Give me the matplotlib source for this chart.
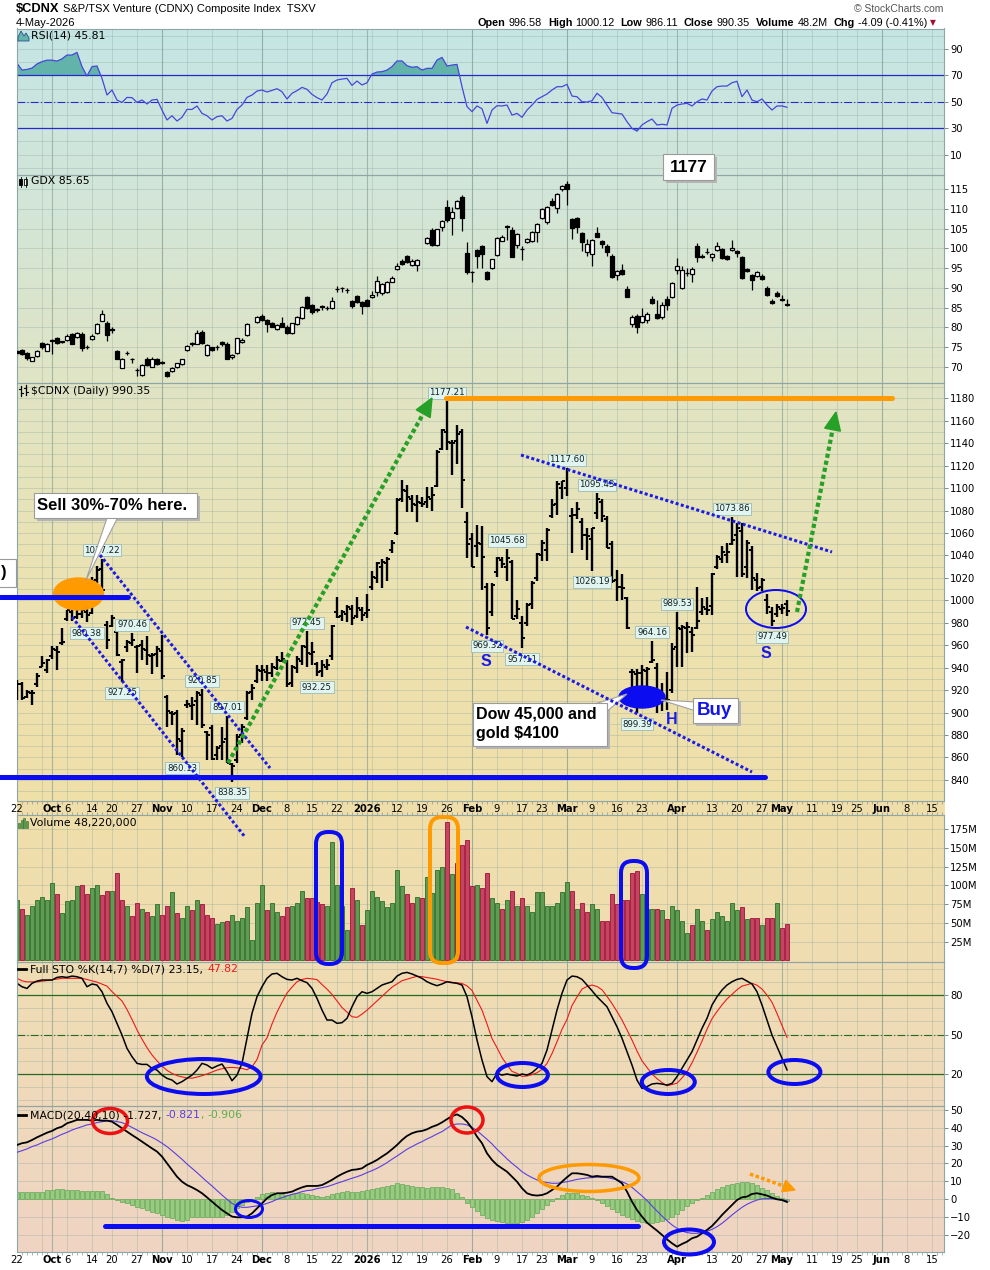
import numpy as np
import pandas as pd
import matplotlib
matplotlib.use('Agg')
import matplotlib.pyplot as plt
from matplotlib.patches import Ellipse, Rectangle, Polygon, FancyBboxPatch
from matplotlib.colors import LinearSegmentedColormap

plt.rcParams['font.family'] = ['DejaVu Sans']

W, H = 990, 1270
X0, X1 = 16.5, 944.0
PX = 0.72  # points per pixel at 100 dpi

# TSXV trading calendar
holidays = ['2025-10-13', '2025-12-25', '2025-12-26', '2026-01-01',
            '2026-02-16', '2026-04-03', '2026-05-18']
days = pd.bdate_range('2025-09-22', '2026-06-19', freq='C', holidays=holidays)
pos = {d.strftime('%Y-%m-%d'): k for k, d in enumerate(days)}

tick_dates = ['2025-09-22', '2025-10-01', '2025-10-06', '2025-10-14', '2025-10-20', '2025-10-27',
              '2025-11-03', '2025-11-10', '2025-11-17', '2025-11-24', '2025-12-01', '2025-12-08',
              '2025-12-15', '2025-12-22', '2026-01-02', '2026-01-12', '2026-01-19', '2026-01-26',
              '2026-02-02', '2026-02-09', '2026-02-17', '2026-02-23', '2026-03-02', '2026-03-09',
              '2026-03-16', '2026-03-23', '2026-04-01', '2026-04-13', '2026-04-20', '2026-04-27',
              '2026-05-01', '2026-05-11', '2026-05-19', '2026-05-25', '2026-06-01', '2026-06-08',
              '2026-06-15']
tick_labels = ['22', 'Oct', '6', '14', '20', '27', 'Nov', '10', '17', '24', 'Dec', '8', '15', '22',
               '2026', '12', '19', '26', 'Feb', '9', '17', '23', 'Mar', '9', '16', '23', 'Apr', '13',
               '20', '27', 'May', '11', '19', '25', 'Jun', '8', '15']
month_names = {'Oct', 'Nov', 'Dec', '2026', 'Feb', 'Mar', 'Apr', 'May', 'Jun'}

# ---------------- $CDNX daily OHLC ----------------
cdnx_open = [918, 925, 914, 917, 925, 941, 938, 950, 956, 962,
             983, 990, 985, 988, 990, 989, 1018, 1028, 978, 977,
             972, 945, 958, 962, 958, 960, 956, 950, 952, 955,
             914, 900, 900, 875, 907, 906, 910, 916, 883, 886,
             862, 870, 876, 854, 858, 880, 895, 918, 928, 937,
             936, 935, 940, 946, 945, 926, 940, 946, 958, 952,
             943, 937, 941, 950, 990, 986, 988, 992, 986, 991,
             989, 1012, 1020, 1030, 1033, 1045, 1060, 1090, 1097, 1090,
             1085, 1087, 1088, 1090, 1102, 1135, 1150, 1140, 1142, 1150,
             1070, 1055, 1048, 1050, 1012, 990, 1025, 1036, 1030, 1034,
             986, 980, 980, 997, 1020, 1040, 1045, 1075, 1086, 1100,
             1100, 1075, 1076, 1070, 1058, 1055, 1078, 1088, 1072, 1050,
             1018, 1012, 1002, 936, 934, 935, 937, 945, 940, 915,
             912, 920, 958, 974, 975, 972, 975, 990, 992, 995,
             1030, 1037, 1040, 1050, 1058, 1062, 1030, 1045, 1018, 1012,
             1000, 990, 988, 992, 996.58]
cdnx_high = [929, 927, 920, 920, 935, 950, 948, 959, 959, 975,
             991, 993, 994, 994, 992, 1021, 1031, 1037.22, 982, 987,
             974, 948, 965, 970.46, 960, 965, 968, 953, 959, 969,
             916, 901, 902, 886, 911, 914, 919, 920.85, 884, 889,
             870, 887, 897.01, 855, 881, 890, 919, 925, 942, 942,
             942, 944, 950, 954, 947, 942, 950, 960, 972.45, 963,
             945, 947, 948, 978, 1003, 991, 996, 996, 1003, 994,
             1006, 1026, 1034, 1037, 1039, 1054, 1091, 1107, 1103, 1094,
             1094, 1092, 1101, 1101, 1134, 1153, 1177.21, 1143, 1156, 1153,
             1079, 1060, 1067, 1066, 1015, 1015, 1039, 1039, 1045.68, 1036,
             1000, 986, 998, 1017, 1042, 1054, 1064, 1090, 1106, 1106,
             1117.60, 1082, 1088, 1073, 1064, 1064, 1095.43, 1090, 1075, 1053,
             1027, 1023, 1003, 939, 939, 942, 941, 964.16, 944, 926,
             936, 962, 989.53, 978, 981, 976, 1012, 1002, 1003, 1024,
             1040, 1048, 1051, 1073.86, 1069, 1069, 1054, 1048, 1024, 1020,
             1006, 994, 997, 997, 1000.12]
cdnx_low = [911, 911, 913, 907, 923, 941, 935, 948, 938, 960,
            982, 982, 983, 984, 980.38, 988, 1015, 1006, 957, 976,
            950, 927.25, 954, 959, 935, 947, 942, 934, 941, 930,
            887, 889, 862, 860.13, 904, 893, 889, 886, 858, 858,
            858, 858, 855, 838.35, 855, 873, 893, 911, 926, 928,
            928, 932, 938, 945, 923, 923, 935, 942, 941, 942,
            932.25, 932, 938, 947, 984, 982, 981, 978, 984, 982,
            984, 1009, 1015, 1011, 1017, 1042, 1058, 1088, 1079, 1079,
            1070, 1083, 1082, 1080, 1101, 1134, 1134, 1112, 1121, 1082,
            1038, 1030, 1039, 1009, 969.32, 986, 1021, 1029, 1017, 983,
            983, 957.11, 977, 992, 1017, 1035, 1035, 1073, 1076, 1090,
            1093, 1042, 1072, 1045, 1036, 1026.19, 1072, 1070, 1047, 1015,
            999, 1000, 974, 923, 899.39, 923, 923, 944, 900, 901,
            902, 917, 941, 941, 953, 954, 974, 987, 987, 987,
            1028, 1033, 1033, 1049, 1021, 1021, 1020, 1009, 1008, 1008,
            988, 977.49, 985, 988, 986.11]
cdnx_close = [925, 913, 918, 917, 933, 944, 947, 957, 954, 963,
              991, 984, 988, 991, 987, 1017, 1027, 1009, 965, 984,
              951, 947, 963, 965, 959, 957, 951, 951, 957, 933,
              901, 899, 876, 884, 908, 907, 917, 889, 880, 859,
              868, 874, 855, 852, 878, 887, 917, 922, 938, 938,
              935, 941, 947, 948, 925, 941, 948, 959, 953, 954,
              936, 942, 942, 977, 985, 990, 994, 984, 993, 987,
              991, 1021, 1033, 1034, 1037, 1051, 1089, 1098, 1092, 1086,
              1088, 1086, 1092, 1094, 1132, 1152, 1141, 1140, 1148, 1107,
              1050, 1030, 1051, 1039, 975, 1014, 1038, 1032, 1038, 983,
              992, 966, 996, 1015, 1041, 1051, 1063, 1085, 1104, 1106,
              1116, 1076, 1081, 1058, 1057, 1064, 1090, 1075, 1047, 1017,
              1012, 1011, 975, 936, 935, 938, 939, 947, 911, 911,
              911, 957, 975, 976, 976, 969, 982, 994, 991, 1023,
              1039, 1043, 1043, 1054, 1064, 1023, 1051, 1020, 1011, 1018,
              994, 982, 994, 993, 990.35]

# labelled swing points: (day index, 'H' high / 'L' low)
swing_points = [(17, 'H'), (14, 'L'), (23, 'H'), (21, 'L'), (37, 'H'), (33, 'L'), (42, 'H'),
                (43, 'L'), (58, 'H'), (60, 'L'), (86, 'H'), (94, 'L'), (98, 'H'), (101, 'L'),
                (110, 'H'), (116, 'H'), (115, 'L'), (127, 'H'), (124, 'L'), (132, 'H'),
                (143, 'H'), (151, 'L')]

# ---------------- GDX candles (nan = US holiday) ----------------
nan = np.nan
gdx_open = [74.0, 74.2, 73.6, 71.6, 72.8, 76.1, 74.1, 76.6, 77.4, 76.3,
            76.9, 78.3, 77.6, 78.3, 75.1, 77.0, 78.6, 81.7, 81.2, 79.5,
            74.0, 69.8, 73.6, 72.1, 69.2, 67.9, 72.1, 70.0, 72.1, 71.1,
            68.7, 69.0, 70.0, 70.7, 74.2, 75.8, 75.9, 78.9, 73.0, 74.9,
            74.9, 76.3, 75.9, 72.4, 73.4, 76.3, 78.0, nan, 81.4, 83.0,
            81.8, 81.2, 79.6, 81.2, 80.2, 78.5, 80.8, 82.3, 87.6, 85.6,
            84.4, 85.3, 84.8, 84.8, 89.7, 89.9, 89.5, 86.7, 87.9, 86.5,
            86.9, 87.6, 89.0, 88.6, 88.9, 91.6, 94.8, 96.9, 98.1, 95.7,
            95.9, nan, 101.3, 104.7, 100.9, 105.3, 110.4, 107.6, 110.2, 113.0,
            98.8, 94.0, 99.6, 100.6, 94.1, 95.0, 98.3, 102.0, 105.6, 104.7,
            100.9, 99.9, 101.5, 101.9, 104.1, 107.6, 106.6, 112.0, 110.2, 115.0,
            116.3, 107.4, 107.8, 103.8, 99.0, 98.5, 103.8, 101.9, 100.7, 98.2,
            93.3, 94.5, 89.7, 80.8, 83.0, 81.3, 81.8, 87.3, 83.3, 82.5,
            87.1, 87.8, 94.5, 89.9, 93.8, 93.5, 100.5, 98.0, 99.1, 97.7,
            99.6, 99.8, 98.1, 99.6, 99.3, 97.7, 94.8, 93.3, 93.0, 93.1,
            89.9, 86.8, 88.6, 87.3, 86.0]
gdx_close = [73.6, 73.3, 72.2, 72.4, 74.0, 74.9, 75.8, 76.8, 76.1, 76.4,
             77.8, 75.9, 78.5, 74.8, 75.0, 77.8, 80.8, 83.5, 78.0, 79.3,
             72.1, 72.1, 73.4, 71.9, 69.1, 70.4, 70.4, 72.1, 70.7, 71.0,
             67.6, 69.8, 70.9, 71.9, 75.3, 76.0, 78.6, 76.1, 75.5, 74.2,
             74.9, 75.7, 72.1, 73.0, 77.2, 76.9, 80.8, nan, 82.5, 81.8,
             80.8, 80.2, 80.6, 80.2, 78.5, 81.0, 82.7, 85.2, 84.8, 84.0,
             84.4, 85.2, 84.9, 86.8, 89.8, 89.9, 89.4, 85.5, 86.5, 85.4,
             85.5, 88.2, 91.8, 91.0, 91.4, 92.6, 95.5, 96.1, 96.6, 96.9,
             97.1, nan, 102.6, 100.9, 104.8, 107.0, 107.1, 109.1, 111.9, 107.6,
             93.9, 93.9, 98.1, 98.6, 92.2, 97.2, 102.6, 103.0, 105.5, 97.9,
             103.7, 99.8, 102.4, 104.1, 106.1, 110.0, 110.4, 110.9, 113.7, 115.7,
             115.0, 105.1, 105.5, 101.5, 101.0, 102.1, 103.0, 101.1, 99.0, 92.8,
             94.3, 93.5, 87.8, 82.7, 80.0, 83.0, 83.3, 86.1, 82.3, 85.7,
             85.7, 91.3, 95.6, 94.5, 93.7, 94.8, 97.9, 97.9, 99.0, 98.6,
             100.5, 97.5, 97.3, 100.0, 98.8, 92.6, 94.3, 92.0, 94.1, 92.2,
             88.2, 86.1, 87.9, 86.9, 85.65]
gdx_high = [74.5, 74.6, 73.8, 72.6, 74.3, 76.4, 76.0, 77.0, 77.6, 76.6,
            78.3, 78.5, 78.7, 78.7, 75.5, 78.3, 81.0, 84.4, 81.5, 80.0,
            74.3, 72.3, 73.9, 72.3, 69.6, 70.6, 72.4, 72.4, 72.3, 71.4,
            68.9, 70.0, 71.0, 72.0, 75.5, 76.3, 79.3, 79.3, 75.8, 75.1,
            75.5, 76.6, 76.4, 73.3, 77.4, 77.2, 81.0, nan, 82.8, 83.3,
            82.0, 81.4, 80.9, 82.6, 80.5, 81.2, 83.0, 85.4, 87.9, 85.9,
            84.9, 85.6, 85.4, 87.8, 90.6, 90.2, 89.9, 86.9, 88.1, 86.8,
            87.1, 89.2, 93.0, 91.3, 91.7, 93.0, 96.3, 97.2, 98.4, 97.2,
            97.4, nan, 102.9, 105.2, 105.0, 107.3, 112.3, 110.4, 112.2, 113.5,
            101.6, 94.3, 99.9, 100.9, 94.4, 97.4, 102.9, 103.5, 106.0, 105.5,
            104.0, 100.5, 102.7, 104.5, 106.4, 110.3, 110.7, 112.8, 114.0, 116.0,
            117.1, 107.7, 108.0, 104.1, 102.3, 102.5, 105.4, 102.2, 101.0, 98.5,
            94.6, 96.0, 90.4, 83.2, 83.3, 85.0, 83.9, 88.0, 87.0, 86.5,
            88.0, 91.6, 97.6, 95.5, 95.0, 95.2, 101.4, 98.5, 100.0, 98.9,
            101.5, 100.2, 98.4, 102.1, 99.6, 98.0, 95.0, 93.6, 94.4, 93.4,
            90.6, 87.3, 89.2, 88.3, 87.2]
gdx_low = [73.0, 73.0, 71.8, 71.4, 72.6, 74.6, 73.9, 73.3, 75.9, 76.0,
           76.6, 75.7, 77.4, 74.0, 74.5, 76.8, 78.4, 81.5, 76.5, 78.6,
           71.9, 69.6, 73.1, 71.0, 67.7, 67.6, 70.1, 69.9, 70.4, 70.6,
           67.4, 68.8, 69.8, 70.5, 73.9, 75.4, 75.7, 75.9, 72.7, 73.9,
           74.2, 75.4, 71.9, 72.1, 73.2, 76.0, 77.8, nan, 81.2, 81.6,
           78.7, 80.0, 79.4, 80.0, 78.3, 78.3, 80.6, 82.1, 84.6, 83.5,
           83.8, 84.5, 84.3, 84.6, 89.0, 88.9, 88.6, 84.8, 86.2, 83.3,
           85.3, 87.4, 88.0, 88.1, 88.7, 91.4, 94.6, 95.9, 96.4, 95.5,
           94.3, nan, 101.1, 100.6, 100.7, 104.4, 106.8, 103.5, 110.0, 104.3,
           93.6, 91.6, 95.1, 95.0, 92.0, 94.8, 98.1, 101.8, 102.2, 97.9,
           100.0, 97.1, 101.3, 101.7, 101.7, 107.4, 106.3, 110.7, 109.0, 114.5,
           111.0, 102.3, 104.0, 99.3, 98.0, 95.6, 102.8, 100.0, 98.0, 92.5,
           92.0, 93.3, 87.6, 80.0, 78.5, 81.0, 81.0, 85.9, 82.0, 82.2,
           84.5, 87.5, 93.5, 89.6, 93.0, 91.5, 96.6, 97.5, 98.6, 96.8,
           99.3, 97.3, 97.0, 99.4, 97.8, 92.3, 93.9, 89.5, 92.8, 91.9,
           88.0, 85.8, 87.7, 86.7, 85.4]

# ---------------- volume (millions) and up/down colour ----------------
volume = [81, 68, 61, 73, 80, 84, 81, 103, 89, 63,
          79, 81, 99, 100, 88, 97, 101, 87, 93, 93,
          116, 81, 72, 59, 77, 68, 65, 59, 75, 60,
          73, 91, 63, 56, 73, 67, 81, 75, 61, 56,
          48, 51, 52, 61, 53, 56, 71, 27, 77, 100,
          67, 76, 65, 59, 71, 73, 76, 93, 83, 83,
          78, 75, 72, 158, 100, 72, 40, 96, 81, 47,
          67, 92, 84, 79, 71, 77, 120, 99, 88, 77,
          85, 83, 111, 90, 120, 125, 184, 115, 130, 154,
          160, 99, 100, 96, 117, 83, 77, 69, 80, 92,
          72, 83, 73, 64, 91, 91, 72, 73, 77, 91,
          105, 92, 68, 76, 65, 75, 68, 53, 52, 89,
          75, 80, 81, 117, 119, 88, 69, 69, 69, 67,
          55, 73, 67, 53, 36, 47, 68, 53, 41, 55,
          65, 59, 53, 76, 67, 71, 55, 57, 56, 47,
          57, 56, 76, 43, 48.22]
vol_dir = ("GRGGGGGGRG" "GGGRRGGRRG" "RRGRRGRGGR" "RGRGGRGRRR" "GGRGGGGGGG"
           "RGGRRGGGRR" "RRGGGGGRGR" "GGGGGGGGRR" "GRGGGGRGRR" "RRGRRGGRGR"
           "GRGGGGGGGG" "GRGRRGGRRR" "RRRRRGGGRG" "RGGGGRGGRG" "GGGGGRGRRG" "RRGRR")
vol_ticks = [25, 50, 75, 100, 125, 150, 175]

# ---------------- RSI(14) ----------------
rsi = [79.1, 74.0, 74.5, 75.5, 78.6, 80.4, 81.5, 81.5, 80.8, 82.5,
       85.4, 85.4, 87.4, 76.6, 69.5, 76.6, 77.1, 67.7, 55.1, 58.9,
       51.3, 49.5, 53.3, 53.1, 49.5, 51.3, 48.3, 51.3, 51.8, 43.7,
       36.2, 39.4, 35.4, 38.2, 44.2, 44.2, 46.8, 41.2, 39.4, 36.2,
       38.7, 39.4, 35.4, 37.4, 44.2, 47.5, 53.3, 55.1, 58.1, 58.9,
       57.4, 58.6, 59.9, 57.6, 52.1, 56.4, 58.4, 60.9, 59.4, 55.6,
       53.1, 51.3, 55.9, 64.4, 66.5, 67.2, 67.7, 62.4, 65.7, 62.7,
       64.4, 71.0, 72.5, 72.8, 74.0, 76.6, 80.9, 80.9, 77.3, 76.1,
       76.6, 74.0, 75.3, 75.3, 81.6, 83.6, 77.1, 77.8, 78.3, 61.4,
       46.3, 42.5, 46.8, 44.7, 33.6, 43.7, 47.0, 46.8, 47.5, 39.9,
       41.2, 38.2, 43.7, 47.5, 51.8, 53.8, 55.9, 58.9, 61.4, 61.4,
       63.2, 54.3, 53.8, 50.0, 49.8, 50.8, 56.4, 53.3, 47.5, 41.7,
       41.2, 40.7, 34.9, 29.8, 27.8, 32.4, 34.9, 36.9, 32.4, 32.9,
       32.4, 45.0, 47.5, 48.3, 48.8, 46.8, 50.0, 52.1, 51.3, 58.1,
       61.4, 61.9, 61.9, 64.4, 65.5, 53.8, 58.9, 51.3, 50.0, 52.1,
       47.5, 43.7, 46.8, 46.8, 45.81]

# ---------------- Full STO %K(14,7) %D(7) ----------------
sto_k = [88.9, 86.3, 85.0, 88.9, 90.6, 91.4, 91.4, 91.4, 93.4, 93.9,
         93.4, 94.4, 93.9, 92.7, 86.3, 88.4, 87.6, 82.5, 73.7, 67.3,
         58.5, 49.6, 39.5, 33.2, 28.1, 27.3, 27.3, 24.3, 23.0, 19.2,
         16.7, 15.4, 12.4, 14.2, 16.7, 19.2, 23.0, 28.1, 26.8, 24.3,
         26.1, 27.6, 21.8, 14.9, 19.2, 28.1, 47.1, 66.1, 78.7, 86.3,
         92.7, 96.0, 96.5, 93.9, 91.9, 91.4, 92.7, 90.9, 89.4, 85.1,
         77.5, 68.6, 61.0, 61.0, 58.5, 59.0, 62.3, 71.1, 78.7, 82.5,
         81.3, 82.5, 85.1, 87.6, 88.9, 90.1, 94.4, 96.5, 97.2, 96.0,
         94.4, 92.7, 90.1, 88.4, 87.1, 88.4, 90.1, 89.4, 88.9, 87.6,
         78.7, 63.5, 45.8, 30.6, 18.0, 14.2, 20.5, 19.2, 20.0, 19.2,
         18.5, 20.0, 19.2, 21.0, 24.3, 28.1, 38.2, 53.4, 68.6, 81.3,
         91.4, 94.4, 93.9, 91.9, 87.6, 83.3, 78.7, 74.9, 71.1, 63.5,
         55.9, 47.1, 37.0, 26.8, 15.4, 9.1, 10.4, 12.4, 12.9, 12.4,
         11.6, 12.9, 18.0, 24.3, 30.6, 37.0, 45.8, 54.7, 62.3, 72.4,
         78.7, 83.8, 87.6, 90.1, 91.9, 92.7, 90.6, 88.4, 82.5, 72.4,
         61.0, 49.6, 40.8, 31.9, 23.15]
sto_d = [92.7, 90.8, 90.0, 90.0, 90.0, 90.5, 91.0, 91.6, 92.1, 92.7,
         92.7, 92.7, 92.7, 92.7, 91.8, 90.8, 89.8, 88.3, 86.8, 82.6,
         79.0, 75.5, 69.0, 61.5, 53.5, 46.5, 40.0, 34.5, 30.0, 26.0,
         22.8, 20.5, 18.8, 17.8, 17.0, 16.8, 17.7, 18.7, 20.0, 21.5,
         23.0, 24.0, 24.8, 25.0, 24.7, 24.3, 23.2, 25.5, 31.0, 42.0,
         47.5, 58.0, 67.0, 74.5, 81.5, 86.0, 90.1, 91.8, 92.7, 92.3,
         91.7, 88.0, 84.5, 80.5, 75.5, 70.5, 67.0, 63.5, 63.0, 65.5,
         68.5, 72.0, 75.5, 79.0, 82.5, 86.0, 88.5, 90.9, 92.0, 93.2,
         94.2, 94.0, 93.3, 92.7, 92.0, 91.0, 90.1, 89.7, 89.3, 88.8,
         87.0, 83.5, 76.0, 68.5, 58.0, 47.0, 40.0, 32.5, 27.0, 22.0,
         20.5, 18.2, 18.5, 19.5, 21.0, 23.5, 28.0, 35.5, 44.5, 54.0,
         61.5, 72.0, 78.5, 84.5, 86.5, 87.6, 86.5, 84.0, 79.0, 73.5,
         67.5, 61.0, 53.5, 45.8, 37.5, 30.0, 25.0, 20.0, 16.5, 13.5,
         11.0, 12.0, 13.0, 17.0, 21.5, 28.5, 36.5, 45.0, 54.0, 62.0,
         67.5, 72.5, 77.0, 80.5, 84.0, 86.8, 87.8, 88.9, 87.5, 84.5,
         80.0, 74.5, 66.0, 57.0, 47.82]

# ---------------- MACD(20,40,10) ----------------
macd_line = [30.3, 31.3, 31.8, 33.1, 34.6, 35.9, 37.2, 38.2, 39.7, 40.6,
             42.5, 43.4, 44.4, 44.4, 44.4, 44.0, 44.4, 44.0, 44.0, 43.4,
             41.6, 39.7, 37.8, 35.9, 34.1, 32.2, 30.3, 28.4, 26.6, 23.8,
             20.0, 16.3, 12.5, 9.7, 7.8, 6.5, 5.0, 3.2, 0.9, -1.5,
             -3.9, -6.2, -8.1, -9.9, -10.3, -10.3, -9.9, -8.1, -5.3, -2.5,
             0.4, 2.2, 3.2, 3.2, 3.5, 4.1, 5.4, 6.5, 7.3, 7.3,
             7.3, 7.8, 9.2, 10.7, 12.5, 14.0, 15.3, 16.3, 16.6, 17.2,
             19.1, 20.4, 21.9, 23.8, 25.6, 27.9, 30.3, 33.1, 35.4, 36.9,
             37.8, 38.2, 39.1, 40.5, 41.5, 43.0, 44.8, 46.5, 47.5, 46.0,
             43.4, 39.7, 35.0, 31.3, 25.6, 21.9, 19.1, 17.2, 15.3, 12.5,
             9.7, 6.0, 3.2, 2.2, 1.9, 2.2, 3.2, 5.0, 6.9, 9.7,
             12.2, 14.4, 14.4, 14.0, 13.5, 12.5, 12.9, 12.5, 12.5, 12.5,
             10.7, 8.8, 4.1, -1.5, -6.2, -9.9, -13.3, -15.6, -17.8, -20.2,
             -22.7, -24.9, -26.8, -25.3, -24.0, -22.1, -21.2, -19.3, -17.4, -15.2,
             -12.2, -9.0, -6.2, -3.4, -0.6, 0.9, 1.3, 2.8, 3.2, 2.6,
             1.9, 0.7, -0.2, -0.6, -1.727]
macd_signal = [26.2, 27.1, 28.1, 29.4, 30.3, 31.6, 32.7, 33.7, 35.0, 36.3,
               37.4, 38.7, 39.7, 40.6, 41.6, 42.1, 42.9, 43.4, 43.8, 44.0,
               43.4, 42.9, 41.6, 40.2, 38.7, 37.2, 35.9, 34.6, 33.1, 31.3,
               29.4, 27.1, 24.7, 22.3, 19.6, 17.2, 14.8, 12.2, 9.7, 7.3,
               4.7, 2.2, -0.2, -2.5, -3.9, -4.7, -4.7, -4.3, -3.9, -3.4,
               -2.5, -1.5, -0.2, 0.7, 1.7, 2.6, 3.2, 4.1, 4.7, 5.0,
               5.8, 6.3, 6.9, 7.8, 8.8, 9.7, 10.7, 11.6, 12.5, 13.5,
               14.8, 15.9, 17.2, 18.7, 20.4, 22.3, 24.1, 26.0, 27.9, 29.4,
               30.9, 32.2, 33.7, 35.0, 36.5, 37.8, 39.7, 41.6, 42.1, 42.1,
               41.6, 40.2, 38.4, 35.9, 33.5, 30.9, 27.9, 25.3, 22.5, 20.0,
               17.8, 15.3, 13.5, 12.0, 10.7, 9.7, 9.2, 8.8, 8.8, 9.2,
               9.7, 10.3, 11.0, 11.4, 11.8, 12.0, 12.2, 12.2, 12.0, 11.4,
               10.7, 9.7, 8.4, 6.5, 4.1, 1.7, -0.9, -3.9, -6.8, -9.6,
               -12.2, -14.6, -16.5, -18.0, -18.9, -19.3, -19.3, -18.9, -18.2, -17.1,
               -15.6, -13.7, -11.4, -9.0, -6.8, -4.7, -3.0, -1.7, -0.6, 0.0,
               0.2, 0.2, -0.2, -0.6, -0.821]
macd_hist = [3.7, 3.7, 3.7, 4.1, 3.9, 3.9, 5.0, 5.2, 5.4, 5.4,
             5.0, 5.0, 5.0, 4.7, 4.7, 4.7, 4.7, 4.7, 2.6, 0.4,
             -0.6, -1.5, -2.5, -3.4, -4.3, -5.3, -6.2, -7.1, -8.1, -9.0,
             -9.9, -10.9, -11.8, -12.2, -11.8, -10.3, -9.9, -10.3, -9.9, -9.9,
             -10.3, -9.9, -9.0, -7.1, -5.3, -3.4, -1.5, -0.4, 1.2, 2.6,
             3.5, 4.1, 3.5, 2.8, 2.2, 2.8, 3.2, 3.5, 2.8, 2.2,
             1.7, 1.3, 1.7, 2.8, 3.5, 4.1, 4.7, 4.1, 4.1, 4.7,
             5.0, 5.4, 6.0, 6.5, 7.3, 7.8, 8.8, 8.4, 7.8, 7.3,
             6.5, 6.5, 6.0, 6.5, 6.9, 6.5, 6.0, 5.4, 3.2, 1.0,
             -2.0, -4.5, -7.0, -9.0, -10.5, -11.8, -12.6, -13.2, -13.5, -13.5,
             -13.3, -12.8, -11.8, -10.2, -8.0, -5.5, -3.2, -1.2, 0.8, 2.2,
             3.2, 3.6, 3.2, 2.4, 1.4, 0.4, -0.8, -2.2, -3.8, -5.5,
             -7.2, -8.8, -10.2, -11.4, -12.3, -12.9, -13.3, -13.4, -13.2, -12.6,
             -11.5, -10.0, -8.2, -6.2, -4.2, -2.4, -0.8, 0.8, 2.4, 4.0,
             5.5, 6.8, 7.8, 8.6, 9.2, 9.5, 9.4, 8.8, 7.8, 6.4,
             4.8, 3.2, 1.6, 0.4, -0.906]

# ==================================================================
n = len(cdnx_close)
x = np.arange(n)
xlim = (-0.1, 185.4)

week_first = [k for k in range(len(days)) if k == 0 or days[k].weekday() <= days[k - 1].weekday()]
month_first = [k for k in range(1, len(days)) if days[k].month != days[k - 1].month]
tick_idx = [pos[d] for d in tick_dates]

fig = plt.figure(figsize=(W / 100, H / 100), dpi=100)
fig.patch.set_facecolor('white')

# panel background gradient (teal at top -> peach at bottom)
bg = fig.add_axes([X0 / W, 1 - 1252 / H, (X1 - X0) / W, (1252 - 28.5) / H])
stops = [(28.5, '#c5e5e4'), (175, '#d1e6da'), (383, '#e0e4c4'), (600, '#ece2b1'),
         (801, '#f0dfa9'), (962, '#efddb2'), (1106, '#efd9bb'), (1252, '#efd4c3')]
cmap = LinearSegmentedColormap.from_list('bg', [((y - 28.5) / (1252 - 28.5), c) for y, c in stops])
bg.imshow(np.linspace(0, 1, 600).reshape(-1, 1), aspect='auto', cmap=cmap,
          extent=(0, 1, 0, 1), origin='upper')
bg.axis('off')

GRID = '#8fa89e'


def panel(top, bottom, ylo, yhi, yticks, ygrid):
    ax = fig.add_axes([X0 / W, 1 - bottom / H, (X1 - X0) / W, (bottom - top) / H])
    ax.set_facecolor('none')
    ax.set_xlim(*xlim)
    ax.set_ylim(ylo, yhi)
    for s in ax.spines.values():
        s.set_color('#8fa6a6')
        s.set_linewidth(0.8)
    for k in week_first:
        ax.axvline(k, color=GRID, lw=0.6, alpha=0.4, zorder=0)
    for k in month_first:
        ax.axvline(k, color='#7d9a8c', lw=0.8, alpha=0.6, zorder=0)
    for v in ygrid:
        ax.axhline(v, color=GRID, lw=0.6, alpha=0.4, zorder=0)
    ax.yaxis.tick_right()
    ax.set_yticks(yticks)
    ax.tick_params(axis='y', which='major', labelsize=7.2, length=3, width=0.6, pad=1.5,
                   colors='#667777', labelcolor='black')
    ax.set_xticks([])
    return ax


def date_axis(ax):
    ax.set_xticks(tick_idx)
    ax.set_xticklabels(tick_labels, fontsize=7.2)
    ax.set_xticks(np.arange(0, 186), minor=True)
    ax.tick_params(axis='x', which='major', length=0, pad=2.5, labelbottom=True)
    ax.tick_params(axis='x', which='minor', length=2, width=0.5, colors='#889999')
    for lab in ax.get_xticklabels():
        if lab.get_text() in month_names:
            lab.set_fontweight('bold')


# ---- RSI ----
ax_r = panel(28.5, 175, -5.5, 105.5, [10, 30, 50, 70, 90], np.arange(0, 101, 10))
r = np.array(rsi)
ax_r.fill_between(x, r, 70, where=r >= 70, interpolate=True, color='#62b3aa', lw=0)
ax_r.fill_between(x, r, 30, where=r <= 30, interpolate=True, color='#62b3aa', lw=0)
ax_r.axhline(70, color='#2828d0', lw=0.9)
ax_r.axhline(30, color='#2828d0', lw=0.9)
ax_r.axhline(50, color='#2828d0', lw=0.8, ls=(0, (7, 2, 1, 2)))
ax_r.plot(x, r, color='#4646dc', lw=0.9)

# ---- GDX ----
ax_g = panel(175, 383, 65.9, 118.6, np.arange(70, 116, 5), np.arange(70, 116, 5))
go, gc = np.array(gdx_open), np.array(gdx_close)
gh, gl = np.array(gdx_high), np.array(gdx_low)
ok = ~np.isnan(gc)
up = ok & (gc >= go)
dn = ok & (gc < go)
ax_g.vlines(x[ok], gl[ok], gh[ok], color='black', lw=0.9, zorder=2)
body_lo = np.fmin(go, gc)
body_h = np.fmax(np.abs(gc - go), 0.14)
ax_g.bar(x[up], body_h[up], bottom=body_lo[up], width=0.72, facecolor='white',
         edgecolor='black', lw=0.9, zorder=3)
ax_g.bar(x[dn], body_h[dn], bottom=body_lo[dn], width=0.72, facecolor='black',
         edgecolor='black', lw=0.9, zorder=3)

# ---- $CDNX OHLC ----
ax_c = panel(383, 801, 821.2, 1193.6, np.arange(840, 1181, 20), np.arange(830, 1191, 10))
ax_c.vlines(x, cdnx_low, cdnx_high, color='black', lw=1.7, zorder=3)
ax_c.hlines(cdnx_open, x - 0.55, x, color='black', lw=1.4, zorder=3)
ax_c.hlines(cdnx_close, x, x + 0.55, color='black', lw=1.4, zorder=3)
date_axis(ax_c)
for k, side in swing_points:
    v = cdnx_high[k] if side == 'H' else cdnx_low[k]
    off = 8.5 if side == 'H' else -11
    ax_c.annotate(f'{v:.2f}', xy=(k, v), xytext=(0, off * PX), textcoords='offset points',
                  ha='center', va='center', fontsize=6.2, color='#102020', zorder=6,
                  bbox=dict(boxstyle='square,pad=0.18', fc='#e2f4f0', ec='#9bbcb6', lw=0.6))

# ---- Volume ----
ax_v = panel(815, 962, -2, 193.5, vol_ticks, vol_ticks)
ax_v.set_yticklabels([f'{v}M' for v in vol_ticks])
face = ['#5f9b50' if d == 'G' else '#c2465f' for d in vol_dir]
edge = ['#2c6e2c' if d == 'G' else '#a50e3c' for d in vol_dir]
ax_v.bar(x, volume, width=0.9, color=face, edgecolor=edge, lw=0.6, zorder=2)
ax_v.set_xticks(np.arange(0, 186), minor=True)
ax_v.tick_params(axis='x', which='minor', top=True, bottom=False, length=2, width=0.5,
                 colors='#889999')

# ---- Full STO ----
ax_s = panel(962, 1106, -4.3, 105.1, [20, 50, 80], np.arange(0, 101, 10))
ax_s.axhline(80, color='#236b23', lw=0.9)
ax_s.axhline(20, color='#236b23', lw=0.9)
ax_s.axhline(50, color='#236b23', lw=0.8, ls=(0, (7, 2, 1, 2)))
ax_s.plot(x, sto_d, color='#ee1a1a', lw=0.8)
ax_s.plot(x, sto_k, color='black', lw=1.1)

# ---- MACD ----
ax_m = panel(1106, 1252, -29.8, 52.2, np.arange(-20, 51, 10), np.arange(-20, 51, 10))
ax_m.bar(x, macd_hist, width=0.85, color='#95cc80', edgecolor='#66a656', lw=0.5, zorder=2)
ax_m.plot(x, macd_signal, color='#5a3ee0', lw=0.8, zorder=3)
ax_m.plot(x, macd_line, color='black', lw=1.3, zorder=4)
date_axis(ax_m)

# ================= overlay (pixel coordinates) =================
ov = fig.add_axes([0, 0, 1, 1], zorder=20)
ov.set_xlim(0, W)
ov.set_ylim(H, 0)
ov.axis('off')
renderer = fig.canvas.get_renderer()


def chain(x0, y0, parts, size, family='DejaVu Sans'):
    for s, col, wt, gap in parts:
        t = ov.text(x0, y0, s, fontsize=size, color=col, fontweight=wt, family=family,
                    ha='left', va='center')
        x0 += t.get_window_extent(renderer).width + gap
    return x0


# header
ov.text(16, 9.5, '$CDNX', fontsize=9.3, fontweight='bold', family='Liberation Sans', va='center')
ov.text(63, 9.5, 'S&P/TSX Venture (CDNX) Composite Index  TSXV', fontsize=8,
        family='Liberation Sans', va='center')
ov.text(16, 22.5, '4-May-2026', fontsize=8, family='Liberation Sans', va='center')
ov.text(943, 9, '\u00a9 StockCharts.com', fontsize=7.5, color='#555555', ha='right',
        family='Liberation Sans', va='center')
end = chain(478, 22.5, [('Open', 'black', 'bold', 3), ('996.58', 'black', 'normal', 6),
                        ('High', 'black', 'bold', 3), ('1000.12', 'black', 'normal', 6),
                        ('Low', 'black', 'bold', 3), ('986.11', 'black', 'normal', 6),
                        ('Close', 'black', 'bold', 3), ('990.35', 'black', 'normal', 6),
                        ('Volume', 'black', 'bold', 3), ('48.2M', 'black', 'normal', 6),
                        ('Chg', 'black', 'bold', 3), ('-4.09 (-0.41%)', 'black', 'normal', 3)],
            7.8, 'Liberation Sans')
ov.text(end, 22.5, '\u25bc', fontsize=5.5, color='#a01030', va='center', ha='left')

# panel titles with small icons
ov.add_patch(Polygon([(18, 41), (18, 37), (21, 31), (24, 36), (26, 33), (29, 38), (29, 41)],
                     closed=True, fc='#62b3aa', ec='#2f4f8f', lw=0.6))
ov.text(31, 35, 'RSI(14) 45.81', fontsize=7.8, va='center')
for cx, filled in [(20.5, True), (25.5, False)]:
    ov.plot([cx, cx], [176.5, 186.5], color='black', lw=0.6)
    ov.add_patch(Rectangle((cx - 1.5, 178.5), 3, 6, fc='black' if filled else 'white',
                           ec='black', lw=0.6))
ov.text(31, 181.5, 'GDX 85.65', fontsize=7.8, va='center')
for cx, a, b in [(21, 386, 396), (26, 385, 395)]:
    ov.plot([cx, cx], [a, b], color='black', lw=0.9)
    ov.plot([cx - 2, cx], [a + 3, a + 3], color='black', lw=0.8)
    ov.plot([cx, cx + 2], [b - 3, b - 3], color='black', lw=0.8)
ov.text(31, 390.5, '$CDNX (Daily) 990.35', fontsize=7.8, va='center')
for k, hgt in enumerate([5, 8, 10, 7]):
    ov.add_patch(Rectangle((18 + 2.5 * k, 828 - hgt), 2, hgt, fc='#5f9b50', ec='#2c6e2c', lw=0.4))
ov.text(30.5, 823, 'Volume 48,220,000', fontsize=7.8, va='center')
ov.plot([18, 26], [969, 969], color='black', lw=2)
chain(30, 969, [('Full STO %K(14,7) %D(7) 23.15,', 'black', 'normal', 4),
                ('47.82', '#ee1a1a', 'normal', 0)], 7.8)
ov.plot([18, 26], [1115, 1115], color='black', lw=2)
chain(30, 1115, [('MACD(20,40,10) -1.727,', 'black', 'normal', 4),
                 ('-0.821', '#5a3ee0', 'normal', 0), (',', '#5fae4f', 'normal', 4),
                 ('-0.906', '#5fae4f', 'normal', 0)], 7.8)

BLUE = '#0c0cf0'
ORANGE = '#ff9a00'
GREEN = '#27a027'

# thick support / resistance lines
ov.plot([0, 128], [597, 597], color=BLUE, lw=5 * PX, solid_capstyle='round')
ov.plot([0, 765], [777, 777], color=BLUE, lw=5 * PX, solid_capstyle='round')
ov.plot([446, 892], [398, 398], color=ORANGE, lw=5 * PX, solid_capstyle='round')
ov.add_patch(Ellipse((78.5, 594), 50, 32, color=ORANGE))

# dotted trend channels
for xa, ya, xb, yb in [(100, 555, 270, 768), (72, 617, 245, 837),
                       (521, 455, 832, 552), (466, 627, 752, 772)]:
    ov.plot([xa, xb], [ya, yb], color='#1a1ae8', lw=3 * PX, ls=(0, (1, 0.8)))


def arrow(xa, ya, xb, yb, color, lw, hl, hw):
    d = np.array([xb - xa, yb - ya], float)
    d /= np.hypot(*d)
    nrm = np.array([-d[1], d[0]])
    base = np.array([xb, yb]) - d * hl
    ov.plot([xa, base[0]], [ya, base[1]], color=color, lw=lw * PX, ls=(0, (1, 0.7)))
    ov.add_patch(Polygon([(xb, yb), base + nrm * hw / 2, base - nrm * hw / 2],
                         closed=True, color=color))


arrow(228, 763, 432, 398, GREEN, 4.2, 18, 16)
arrow(797, 612, 836, 412, GREEN, 4.2, 18, 16)
arrow(750, 1174, 795, 1190, ORANGE, 3.5, 12, 12)

ov.add_patch(Ellipse((776, 609), 60, 38, fc='none', ec=BLUE, lw=2 * PX))
ov.add_patch(Ellipse((642, 697), 46, 22, color=BLUE))


def box(x0, y0, x1, y1):
    ov.add_patch(Rectangle((x0 + 3, y0 + 3), x1 - x0, y1 - y0, fc='#b5b5b5', ec='none'))
    ov.add_patch(Rectangle((x0, y0), x1 - x0, y1 - y0, fc='white', ec='#9a9a9a', lw=0.8))


def callout(x0, y0, x1, y1, base, tip):
    ov.add_patch(Rectangle((x0 + 3, y0 + 3), x1 - x0, y1 - y0, fc='#b5b5b5', ec='none'))
    ov.add_patch(Polygon([base[0], tip, base[1]], closed=True, fc='white', ec='#a0a0a0', lw=0.8))
    ov.add_patch(Rectangle((x0, y0), x1 - x0, y1 - y0, fc='white', ec='#9a9a9a', lw=0.8))


callout(34, 493, 197, 518, [(108, 515), (119, 515)], (86, 580))
ov.text(37, 505.5, 'Sell 30%-70% here.', fontsize=12, fontweight='bold',
        family='Liberation Sans', va='center')
callout(473, 703, 607, 746, [(588, 706), (604, 714)], (627, 694))
ov.text(476, 714, 'Dow 45,000 and', fontsize=11.5, fontweight='bold',
        family='Liberation Sans', va='center')
ov.text(476, 733.5, 'gold $4100', fontsize=11.5, fontweight='bold',
        family='Liberation Sans', va='center')
callout(693, 698, 738, 723, [(696, 702), (696, 711)], (661, 700))
ov.text(697, 710.5, 'Buy', fontsize=13.5, fontweight='bold', color='#1414e6',
        family='Liberation Sans', va='center')
box(663, 154, 714, 180)
ov.text(688.5, 167, '1177', fontsize=12.5, fontweight='bold', family='Liberation Sans',
        va='center', ha='center')
# box running off the left edge, only its last glyph edge shows
ov.add_patch(Rectangle((-40, 559), 55.7, 28, fc='white', ec='#9a9a9a', lw=0.8))
ov.text(0.5, 573, ')', fontsize=12, fontweight='bold', family='Liberation Sans',
        va='center', ha='left')

for tx, ty, s in [(486, 661, 'S'), (766, 654, 'S'), (672, 719, 'H')]:
    ov.text(tx, ty, s, fontsize=11.5, fontweight='bold', color='#1a1ae6',
            family='Liberation Sans', ha='center', va='center')

# volume highlights
for x0, y0, x1, y1, col in [(316, 832, 342, 964, BLUE), (430, 817, 458, 963, ORANGE),
                            (621, 861, 647, 968, BLUE)]:
    ov.add_patch(FancyBboxPatch((x0, y0), x1 - x0, y1 - y0,
                                boxstyle='round,pad=0,rounding_size=12',
                                fc='none', ec=col, lw=4 * PX))

# stochastic ovals
for cx, cy, w, h in [(203.7, 1076.5, 113.6, 35), (522.4, 1075, 51, 24),
                     (668.3, 1082, 53, 24), (794.4, 1072, 52, 24)]:
    ov.add_patch(Ellipse((cx, cy), w, h, fc='none', ec=BLUE, lw=4 * PX))

# MACD marks
ov.add_patch(Ellipse((110, 1121), 35, 25, fc='none', ec='#ee1111', lw=3.5 * PX))
ov.add_patch(Ellipse((467, 1120), 32, 26, fc='none', ec='#ee1111', lw=3.5 * PX))
ov.add_patch(Ellipse((249, 1209), 27, 17, fc='none', ec=BLUE, lw=3 * PX))
ov.add_patch(Ellipse((589, 1178), 100, 27, fc='none', ec=ORANGE, lw=3.5 * PX))
ov.add_patch(Ellipse((689, 1242), 50, 25, fc='none', ec=BLUE, lw=4 * PX))
ov.plot([105, 638], [1226, 1226], color=BLUE, lw=5 * PX, solid_capstyle='round')

fig.savefig('out.png', dpi=100)
